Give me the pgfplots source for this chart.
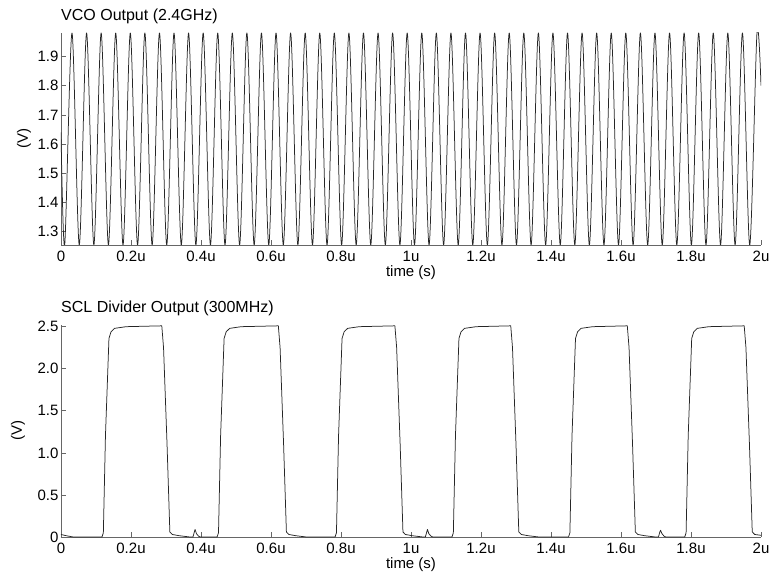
\documentclass[border=0pt]{standalone}
\usepackage{fontspec}
\setmainfont{Liberation Sans}
\usepackage{pgfplots}
\usepackage{pgfplotstable}
\pgfplotsset{compat=1.18}

% VCO waveform: successive troughs and peaks (time in us, voltage in V)
\pgfplotstableread{
t v
0.0000 1.640
0.0106 1.255
0.0314 1.980
0.0522 1.255
0.0731 1.980
0.0939 1.255
0.1147 1.980
0.1355 1.255
0.1563 1.980
0.1772 1.255
0.1980 1.980
0.2188 1.255
0.2396 1.980
0.2604 1.255
0.2813 1.980
0.3021 1.255
0.3229 1.980
0.3437 1.255
0.3645 1.980
0.3854 1.255
0.4062 1.980
0.4270 1.255
0.4478 1.980
0.4686 1.255
0.4895 1.980
0.5103 1.255
0.5311 1.980
0.5519 1.255
0.5727 1.980
0.5936 1.255
0.6144 1.980
0.6352 1.255
0.6560 1.980
0.6768 1.255
0.6977 1.980
0.7185 1.255
0.7393 1.980
0.7601 1.255
0.7809 1.980
0.8018 1.255
0.8226 1.980
0.8434 1.255
0.8642 1.980
0.8850 1.255
0.9059 1.980
0.9267 1.255
0.9475 1.980
0.9683 1.255
0.9891 1.980
1.0100 1.255
1.0308 1.980
1.0516 1.255
1.0724 1.980
1.0932 1.255
1.1141 1.980
1.1349 1.255
1.1557 1.980
1.1765 1.255
1.1973 1.980
1.2182 1.255
1.2390 1.980
1.2598 1.255
1.2806 1.980
1.3014 1.255
1.3223 1.980
1.3431 1.255
1.3639 1.980
1.3847 1.255
1.4055 1.980
1.4264 1.255
1.4472 1.980
1.4680 1.255
1.4888 1.980
1.5096 1.255
1.5305 1.980
1.5513 1.255
1.5721 1.980
1.5929 1.255
1.6137 1.980
1.6346 1.255
1.6554 1.980
1.6762 1.255
1.6970 1.980
1.7178 1.255
1.7387 1.980
1.7595 1.255
1.7803 1.980
1.8011 1.255
1.8219 1.980
1.8428 1.255
1.8636 1.980
1.8844 1.255
1.9052 1.980
1.9260 1.255
1.9469 1.980
1.9677 1.255
1.9885 1.980
2.0000 1.800
}\vcodata

% Divider output (time in us, voltage in V)
\pgfplotstableread{
t v
0.000 0.030
0.015 0.015
0.035 0.000
0.117 0.000
0.121 0.050
0.127 1.200
0.137 2.360
0.143 2.440
0.153 2.480
0.186 2.500
0.288 2.510
0.293 2.250
0.303 1.100
0.311 0.060
0.318 0.030
0.338 0.015
0.368 0.000
0.377 0.000
0.381 0.060
0.383 0.090
0.387 0.040
0.393 0.010
0.398 0.000
0.446 0.000
0.450 0.050
0.456 1.200
0.466 2.360
0.472 2.440
0.482 2.480
0.515 2.500
0.621 2.510
0.626 2.250
0.636 1.100
0.644 0.060
0.651 0.030
0.671 0.015
0.701 0.000
0.783 0.000
0.787 0.050
0.793 1.200
0.803 2.360
0.809 2.440
0.819 2.480
0.852 2.500
0.954 2.510
0.959 2.250
0.969 1.100
0.977 0.060
0.984 0.030
1.004 0.015
1.034 0.000
1.041 0.000
1.045 0.060
1.047 0.090
1.051 0.040
1.057 0.010
1.062 0.000
1.117 0.000
1.121 0.050
1.127 1.200
1.137 2.360
1.143 2.440
1.153 2.480
1.186 2.500
1.285 2.510
1.290 2.250
1.300 1.100
1.308 0.060
1.315 0.030
1.335 0.015
1.365 0.000
1.450 0.000
1.454 0.050
1.460 1.200
1.470 2.360
1.476 2.440
1.486 2.480
1.519 2.500
1.618 2.510
1.623 2.250
1.633 1.100
1.641 0.060
1.648 0.030
1.668 0.015
1.698 0.000
1.707 0.000
1.711 0.060
1.713 0.080
1.717 0.040
1.723 0.010
1.728 0.000
1.782 0.000
1.786 0.050
1.792 1.200
1.802 2.360
1.808 2.440
1.818 2.480
1.851 2.500
1.952 2.510
1.957 2.250
1.967 1.100
1.975 0.060
1.982 0.030
2.000 0.020
}\divdata

\pgfplotsset{
  trace/.style={
    scale only axis, width=700pt, height=212pt,
    anchor=south west,
    xmin=0, xmax=2,
    axis x line=bottom, axis y line=left,
    axis line style={-, black!60, line width=0.7pt},
    tick align=inside, major tick length=5pt,
    tick style={black!60, line width=0.7pt},
    xtick={0,0.2,0.4,0.6,0.8,1,1.2,1.4,1.6,1.8,2},
    xticklabels={0,0.2u,0.4u,0.6u,0.8u,1u,1.2u,1.4u,1.6u,1.8u,2u},
    tick label style={font=\fontsize{15}{17}\selectfont, black},
    xticklabel style={yshift=-3pt},
    yticklabel style={xshift=1pt},
    /pgf/number format/assume math mode=true,
    xlabel={time (s)},
    ylabel={(V)},
    every axis x label/.style={at={(axis description cs:0.5,0)}, anchor=base,
      yshift=-32pt, font=\fontsize{15}{17}\selectfont},
    every axis title/.style={at={(axis description cs:0,1)}, anchor=base west,
      yshift=12pt, inner sep=0pt, font=\fontsize{16}{19}\selectfont},
  },
  trace line/.style={black!85, line width=0.75pt, line join=round},
}

\begin{document}
\begin{tikzpicture}
\path[use as bounding box] (0pt,0pt) rectangle (772pt,580pt);

\begin{axis}[trace,
  at={(61pt,335pt)},
  ymin=1.255, ymax=1.98,
  clip=true,
  ytick={1.3,1.4,1.5,1.6,1.7,1.8,1.9},
  yticklabels={1.3,1.4,1.5,1.6,1.7,1.8,1.9},
  every axis y label/.style={at={(axis description cs:0,0.5)}, xshift=-37pt,
    rotate=90, anchor=center, font=\fontsize{15}{17}\selectfont},
  title={VCO Output (2.4GHz)},
]
\addplot[trace line, smooth] table[x=t, y=v] {\vcodata};
\end{axis}

\begin{axis}[trace,
  at={(61pt,43pt)},
  ymin=0, ymax=2.52,
  clip=false,
  ytick={0,0.5,1,1.5,2,2.5},
  yticklabels={0,0.5,1.0,1.5,2.0,2.5},
  every axis y label/.style={at={(axis description cs:0,0.5)}, xshift=-43pt,
    rotate=90, anchor=center, font=\fontsize{15}{17}\selectfont},
  title={SCL Divider Output (300MHz)},
]
\addplot[trace line] table[x=t, y=v] {\divdata};
\end{axis}
\end{tikzpicture}
\end{document}
